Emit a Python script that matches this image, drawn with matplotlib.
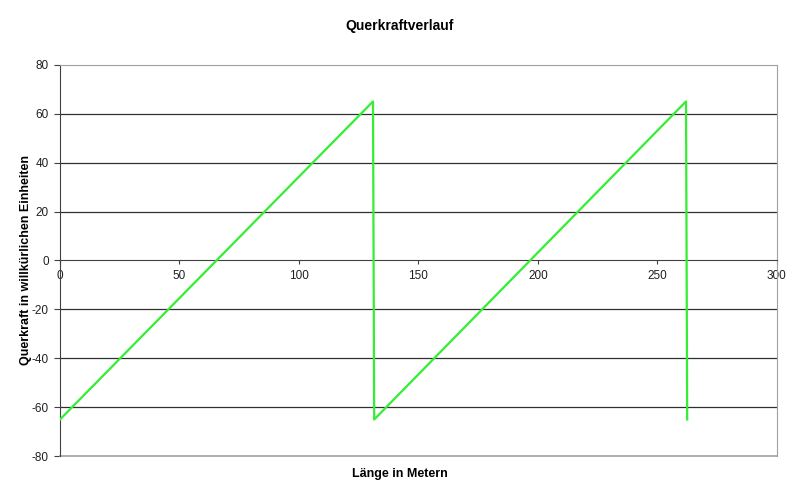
import numpy as np
import matplotlib
matplotlib.use("Agg")
from matplotlib import pyplot as plt

plt.rcParams['font.family'] = ['Liberation Sans', 'DejaVu Sans']
plt.rcParams['axes.unicode_minus'] = False

# Laenge in Metern / Querkraft
laenge = [0, 131, 131.5, 262, 262.5]
querkraft = [-65, 65, -65, 65, -65]

x_ticks = [0, 50, 100, 150, 200, 250, 300]
y_ticks = [-80, -60, -40, -20, 0, 20, 40, 60, 80]

fig = plt.figure(figsize=(8, 4.98), dpi=100)
ax = fig.add_axes([0.075, 0.084, 0.896, 0.786])

for y in y_ticks[1:-1]:
    if y != 0:
        ax.axhline(y, color='#303030', lw=0.9, zorder=1)

ax.plot(laenge, querkraft, color='#33ee33', lw=1.6, zorder=3)

ax.set_xlim(0, 300)
ax.set_ylim(-80, 80)
ax.set_yticks(y_ticks)
ax.set_xticks(x_ticks)

# x axis crosses at y=0
ax.spines['bottom'].set_position(('data', 0))
ax.spines['bottom'].set_color('#404040')
ax.spines['left'].set_color('#404040')
for s in ['top', 'right']:
    ax.spines[s].set_color('#a0a0a0')
ax.plot([0, 1], [0, 0], transform=ax.transAxes, color='#a0a0a0', lw=1.2, clip_on=False)

ax.tick_params(axis='x', direction='out', length=3, labelsize=8.5, colors='#404040', labelcolor='#202020', pad=4)
ax.tick_params(axis='y', direction='out', length=4, labelsize=8.5, colors='#404040', labelcolor='#202020', pad=4)

fig.text(0.5, 0.948, 'Querkraftverlauf', ha='center', va='center', fontsize=10, fontweight='bold')
fig.text(0.5, 0.048, 'Länge in Metern', ha='center', va='center', fontsize=9, fontweight='bold')
fig.text(0.032, 0.477, 'Querkraft in willkürlichen Einheiten', ha='center', va='center',
         rotation=90, fontsize=9, fontweight='bold')

fig.savefig('out.png', dpi=100)
